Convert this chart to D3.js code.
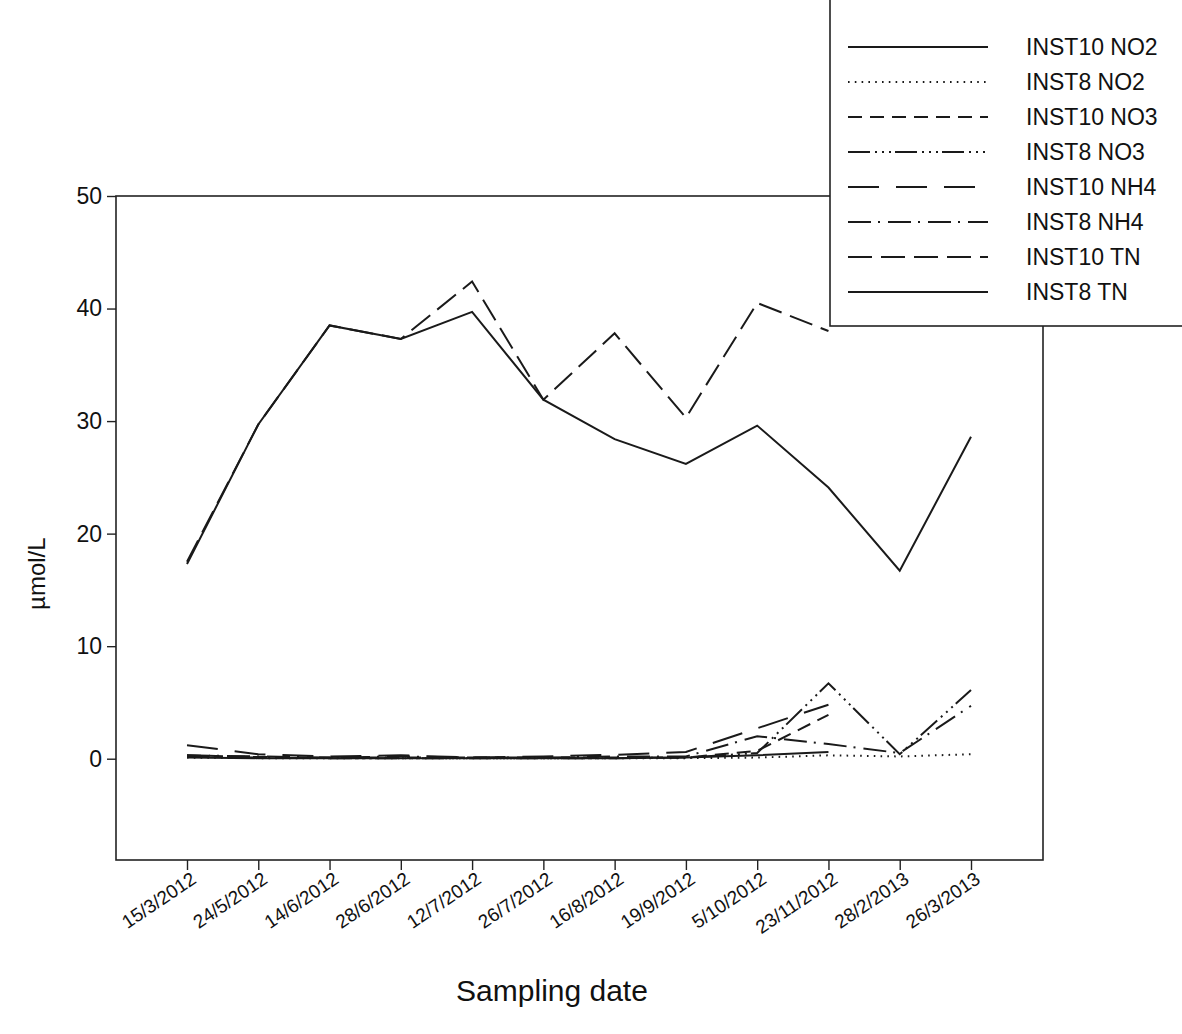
<!DOCTYPE html>
<html>
<head>
<meta charset="utf-8">
<script src="https://cdn.jsdelivr.net/npm/d3@7"></script>
<style>
  html, body { margin: 0; padding: 0; background: #fff; }
  svg { display: block; font-family: "Liberation Sans", Arial, sans-serif; }
</style>
</head>
<body>
<svg id="chart" width="1182" height="1034"></svg>
<script>
// ---- data ----
const dates = ["15/3/2012","24/5/2012","14/6/2012","28/6/2012","12/7/2012","26/7/2012",
               "16/8/2012","19/9/2012","5/10/2012","23/11/2012","28/2/2013","26/3/2013"];
const yTicks = [0, 10, 20, 30, 40, 50];

const inst10NO2 = [0.10, 0.05, 0.05, 0.05, 0.05, 0.05, 0.05, 0.10, 0.30, 0.60, null, null];
const inst8NO2  = [0.10, 0.05, 0.05, 0.05, 0.05, 0.05, 0.05, 0.05, 0.10, 0.30, 0.20, 0.40];
const inst10NO3 = [0.30, 0.15, 0.10, 0.10, 0.10, 0.10, 0.10, 0.10, 0.70, 3.90, null, null];
const inst8NO3  = [0.20, 0.10, 0.05, 0.05, 0.05, 0.05, 0.05, 0.10, 0.50, 6.70, 0.40, 6.10];
const inst10NH4 = [1.20, 0.40, 0.20, 0.30, 0.10, 0.20, 0.35, 0.60, 2.70, 4.80, null, null];
const inst8NH4  = [0.30, 0.20, 0.10, 0.20, 0.10, 0.10, 0.20, 0.20, 2.00, 1.30, 0.50, 4.70];
const inst10TN  = [17.5, 29.7, 38.5, 37.3, 42.4, 31.9, 37.8, 30.3, 40.5, 38.0, null, null];
const inst8TN   = [17.3, 29.7, 38.5, 37.3, 39.7, 31.9, 28.4, 26.2, 29.6, 24.1, 16.7, 28.6];

const seriesNames = ["INST10 NO2","INST8 NO2","INST10 NO3","INST8 NO3",
                     "INST10 NH4","INST8 NH4","INST10 TN","INST8 TN"];
const seriesValues = [inst10NO2, inst8NO2, inst10NO3, inst8NO3, inst10NH4, inst8NH4, inst10TN, inst8TN];
const seriesDash = ["none", "1.6,5.2", "14,8", "22,5,2,5,2,5,2,4", "31,17", "23,7,2,8", "24,9", "none"];

// ---- layout ----
const svg = d3.select("#chart");
const pL = 116, pR = 1043, pT = 196, pB = 860;

const x = d3.scalePoint().domain(dates).range([187, 971]);
const y = d3.scaleLinear().domain([-9, 50]).range([pB, pT]);

// frame
svg.append("rect")
  .attr("x", pL).attr("y", pT)
  .attr("width", pR - pL).attr("height", pB - pT)
  .attr("fill", "none").attr("stroke", "#222").attr("stroke-width", 1.6);

// y axis
const yAxis = svg.append("g")
  .attr("transform", `translate(${pL},0)`)
  .call(d3.axisLeft(y).tickValues(yTicks).tickSize(9).tickPadding(5).tickFormat(d3.format("d")));
yAxis.select(".domain").remove();
yAxis.selectAll("line").attr("stroke", "#222").attr("stroke-width", 1.4);
yAxis.selectAll("text").attr("font-size", 23).attr("fill", "#111")
  .attr("font-family", "'Liberation Sans', Arial, sans-serif");

// x axis
const xAxis = svg.append("g")
  .attr("transform", `translate(0,${pB})`)
  .call(d3.axisBottom(x).tickSize(10).tickPadding(6));
xAxis.select(".domain").remove();
xAxis.selectAll("line").attr("stroke", "#222").attr("stroke-width", 1.4);
xAxis.selectAll("text")
  .attr("font-size", 19).attr("fill", "#111")
  .attr("font-family", "'Liberation Sans', Arial, sans-serif")
  .attr("text-anchor", "end")
  .attr("dy", null).attr("y", null)
  .attr("transform", "translate(10,22) rotate(-34)");

// axis titles
svg.append("text")
  .attr("x", 552).attr("y", 1001)
  .attr("text-anchor", "middle").attr("font-size", 30).attr("fill", "#111")
  .text("Sampling date");
svg.append("text")
  .attr("transform", `translate(45,${y(20) + 40}) rotate(-90)`)
  .attr("text-anchor", "middle").attr("font-size", 24).attr("fill", "#111")
  .text("µmol/L");

// lines
const line = d3.line()
  .defined(d => d.v !== null)
  .x(d => x(d.d))
  .y(d => y(d.v));

seriesValues.forEach((vals, i) => {
  const data = dates.map((d, j) => ({ d: d, v: vals[j] }));
  svg.append("path")
    .datum(data)
    .attr("d", line)
    .attr("fill", "none")
    .attr("stroke", "#1a1a1a")
    .attr("stroke-width", 2)
    .attr("stroke-dasharray", seriesDash[i]);
});

// legend
const lg = svg.append("g");
lg.append("rect")
  .attr("x", 830).attr("y", -2).attr("width", 360).attr("height", 328)
  .attr("fill", "#fff").attr("stroke", "#222").attr("stroke-width", 1.6);
seriesNames.forEach((name, i) => {
  const ly = 47 + i * 35;
  lg.append("line")
    .attr("x1", 848).attr("x2", 988).attr("y1", ly).attr("y2", ly)
    .attr("stroke", "#1a1a1a").attr("stroke-width", 2)
    .attr("stroke-dasharray", seriesDash[i]);
  lg.append("text")
    .attr("x", 1026).attr("y", ly + 8)
    .attr("font-size", 23).attr("fill", "#111")
    .text(name);
});
</script>
</body>
</html>
